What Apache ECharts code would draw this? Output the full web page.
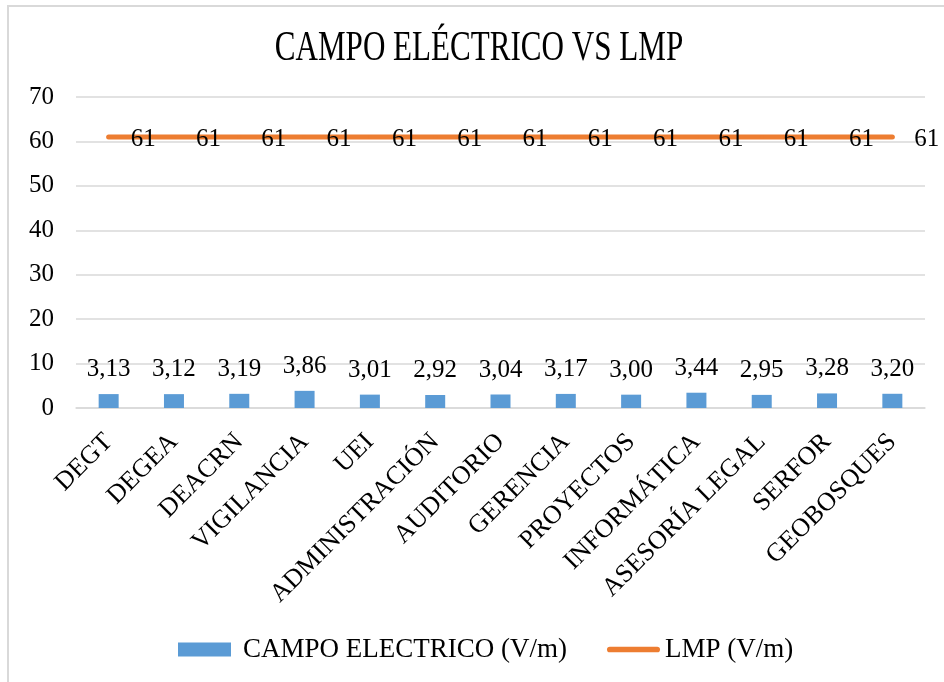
<!DOCTYPE html>
<html>
<head>
<meta charset="utf-8">
<title>Campo eléctrico vs LMP</title>
<script src="https://cdn.jsdelivr.net/npm/echarts@6/dist/echarts.min.js"></script>
<style>
  html, body { margin: 0; padding: 0; background: #ffffff; }
  #chart { width: 944px; height: 682px; }
</style>
</head>
<body>
<div id="chart"></div>
<script>
// Measurement points
const categories = ['DEGT', 'DEGEA', 'DEACRN', 'VIGILANCIA', 'UEI', 'ADMINISTRACIÓN', 'AUDITORIO',
  'GERENCIA', 'PROYECTOS', 'INFORMÁTICA', 'ASESORÍA LEGAL', 'SERFOR', 'GEOBOSQUES'];
// Measured electric field (V/m)
const campoElectrico = [3.13, 3.12, 3.19, 3.86, 3.01, 2.92, 3.04, 3.17, 3.00, 3.44, 2.95, 3.28, 3.20];
// Maximum permissible limit (V/m)
const lmp = [61, 61, 61, 61, 61, 61, 61, 61, 61, 61, 61, 61, 61];
// Value axis
const yTicks = { min: 0, max: 70, interval: 10 };

const serif = '"Liberation Serif", "Times New Roman", serif';
const fmtComma = v => Number(v).toFixed(2).replace('.', ',');
// Thick rounded stroke used as the legend key of the limit line
const lineKey = 'path://M3,0 L53,0 A3,3 0 0 1 53,6 L3,6 A3,3 0 0 1 3,0 Z';

const chart = echarts.init(document.getElementById('chart'), null, { renderer: 'canvas' });

chart.setOption({
  backgroundColor: '#ffffff',
  animation: false,
  textStyle: { fontFamily: serif, color: '#000000' },
  graphic: [
    {
      type: 'rect',
      shape: { x: 8, y: 6, width: 1000, height: 1000 },
      style: { fill: 'none', stroke: '#d9d9d9', lineWidth: 2 },
      silent: true,
      z: -10
    },
    {
      type: 'text',
      x: 479,
      y: 49,
      scaleX: 0.74,
      style: {
        text: 'CAMPO ELÉCTRICO VS LMP',
        fontFamily: serif,
        fontSize: 42,
        fill: '#000000',
        align: 'center',
        verticalAlign: 'middle'
      }
    }
  ],
  legend: {
    left: 178,
    top: 636,
    padding: 0,
    itemWidth: 53,
    itemHeight: 14,
    itemGap: 40,
    textStyle: { fontFamily: serif, fontSize: 27, color: '#000000' },
    data: [
      { name: 'CAMPO ELECTRICO (V/m)', icon: 'rect', textStyle: { padding: [0, 0, 0, 7] } },
      { name: 'LMP (V/m)', icon: lineKey, itemStyle: { color: '#ed7d31' } }
    ]
  },
  grid: { left: 76, right: 19, top: 97, bottom: 274, containLabel: false },
  xAxis: {
    type: 'category',
    data: categories,
    axisLine: { show: true, lineStyle: { color: '#d9d9d9', width: 1.5 } },
    axisTick: { show: false },
    axisLabel: {
      rotate: 45,
      margin: 30,
      interval: 0,
      fontFamily: serif,
      fontSize: 26,
      color: '#000000'
    }
  },
  yAxis: {
    type: 'value',
    min: yTicks.min,
    max: yTicks.max,
    interval: yTicks.interval,
    axisLine: { show: false },
    axisTick: { show: false },
    splitLine: { lineStyle: { color: '#d9d9d9', width: 1.5 } },
    axisLabel: { margin: 22, fontFamily: serif, fontSize: 25, color: '#000000' }
  },
  series: [
    {
      name: 'CAMPO ELECTRICO (V/m)',
      type: 'bar',
      data: campoElectrico,
      barWidth: 20,
      itemStyle: { color: '#5b9bd5' },
      label: {
        show: true,
        position: 'top',
        distance: 12,
        fontFamily: serif,
        fontSize: 25,
        color: '#000000',
        formatter: p => fmtComma(p.value)
      },
      z: 2
    },
    {
      name: 'LMP (V/m)',
      type: 'line',
      data: lmp,
      showSymbol: true,
      symbol: 'circle',
      symbolSize: 4,
      lineStyle: { color: '#ed7d31', width: 5, cap: 'round' },
      itemStyle: { color: '#ed7d31' },
      label: {
        show: true,
        position: 'right',
        distance: 20,
        offset: [0, 2],
        fontFamily: serif,
        fontSize: 25,
        color: '#000000'
      },
      z: 3
    }
  ]
});
</script>
</body>
</html>
